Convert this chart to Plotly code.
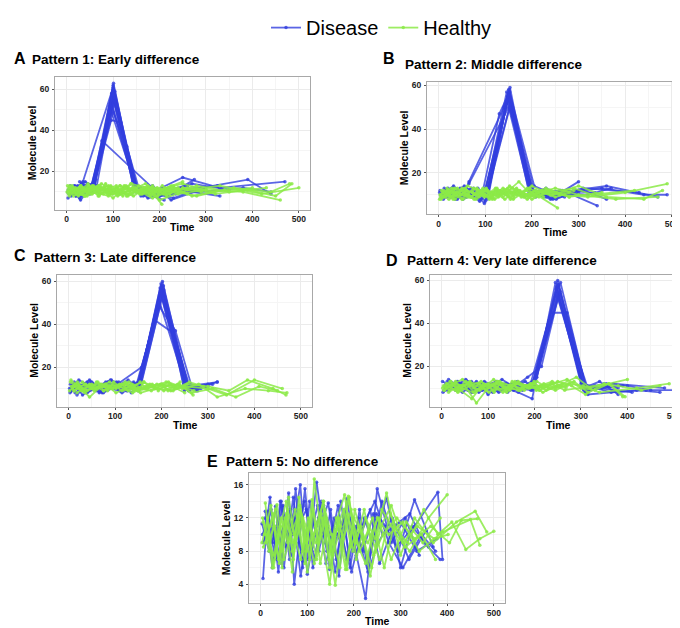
import plotly.graph_objects as go

# ---------------- DATA ----------------
GROUPS = ["Disease", "Healthy"]
PANEL_LETTERS = ["A", "B", "C", "D", "E"]
PANEL_TITLES = ["Pattern 1: Early difference", "Pattern 2: Middle difference",
                "Pattern 3: Late difference", "Pattern 4: Very late difference",
                "Pattern 5: No difference"]
X_TICKS = [0, 100, 200, 300, 400, 500]
Y_TICKS_PEAK = [20, 40, 60]
Y_TICKS_FLAT = [4, 8, 12, 16]

# Panel A: early difference (peak near t=100)
A_DIS_T = [[5,18,35,55,100,150,175,210], [10,28,48,60,97,145,188,240,330],
           [3,25,42,57,102,152,200,260], [15,30,52,95,147,180,230,290,390,440],
           [8,38,58,101,148,195,250,330,470], [20,45,62,96,116,150,170,210],
           [5,33,50,76,185,215,275], [12,30,55,104,150,185,225,300],
           [7,25,45,65,100,155,200,325], [18,40,56,98,143,160,205],
           [2,22,35,100,146,190,270,350], [10,30,53,103,151,175,235,380,440],
           [6,24,44,59,99,149,178,220], [14,32,50,61,101,144,165,215,260],
           [4,20,38,54,97,150,182,240], [9,27,47,58,100,147,170,200,245,310],
           [16,36,53,102,149,192,228], [28,52,100,130,153,190]]
A_DIS_V = [[9,13,11,12,62,13,11,9], [12,7,10,14,58,12,9,11,8],
           [7,11,13,10,55,11,8,12], [10,6,12,50,14,10,7,12,16,9],
           [13,9,13,63,12,11,17,12,15], [8,12,16,45,44,12,9,6],
           [10,14,9,35,12,8,16], [11,8,12,59,10,13,6,12],
           [12,10,14,13,56,12,10,13], [9,15,13,52,15,8,12],
           [10,12,15,61,12,9,14,11], [8,11,10,54,11,7,9,12,10],
           [10,13,9,12,57,13,10,12], [12,9,11,15,60,12,8,10,13],
           [11,8,13,11,53,11,9,10], [9,12,10,13,59,13,11,8,11,10],
           [13,10,12,56,12,10,9], [15,11,49,32,11,9]]
A_HEA_T = [[3,20,45,70,95,120,150,185,230,290], [8,30,55,80,110,140,170,200,260,330,420,500],
           [5,25,50,75,105,135,165,215,280,360,440,480], [12,35,60,90,115,145,180,230],
           [2,18,40,65,88,112,138,162,195,240,300,380,460], [15,42,68,92,125,155,190,205],
           [6,28,52,78,100,128,160,200,250,310,400], [10,32,58,85,108,132,158,186,225,270,340],
           [4,22,48,72,98,122,148,175,210,260,320,390,450,485], [14,38,62,86,114,140,168,196,240],
           [7,26,46,70,96,118,144,172,215,280,350,430], [1,19,44,66,90,116,142,170,205,250],
           [3,15,28,41,55,68,82,96,110,124,138,152,166,180,194,208,225],
           [9,21,34,47,60,73,87,101,115,129,143,157,171,185,199,215,235,260],
           [6,19,31,44,57,71,84,99,113,127,141,155,169,183,197,212,240],
           [12,26,39,52,66,79,93,107,121,135,149,163,177,191,206,222,250,300]]
A_HEA_V = [[11,9,12,8,13,10,11,7,12,10], [10,13,9,12,8,11,14,6,11,13,9,12],
           [12,8,11,14,10,9,12,11,8,12,10,14], [9,12,10,8,13,11,9,13],
           [13,10,8,12,11,9,14,10,12,9,11,10,6], [8,11,13,9,12,10,8,4],
           [10,12,9,11,7,13,9,11,14,10,12], [12,9,13,10,12,8,11,9,13,8,11],
           [9,11,10,13,9,12,10,13,10,12,9,11,8,14], [11,8,12,10,9,14,12,8,12],
           [13,10,14,9,11,10,8,12,9,13,10,12], [10,12,8,11,13,9,12,10,11,15],
           [10,12,9,11,13,8,12,10,9,13,11,10,12,8,11,9,12],
           [12,9,11,13,10,12,9,11,13,8,12,9,11,13,10,8,11,9],
           [8,11,13,9,12,10,14,9,11,12,9,13,10,12,9,12,10],
           [13,10,8,12,11,9,12,13,8,11,12,9,11,10,13,9,12,11]]

# Panel B: middle difference (peak near t=150)
B_DIS_T = [[5,20,45,70,102,150,200,240,300], [10,30,55,85,105,148,198,230,270],
           [3,25,48,75,100,152,205,250,310,360], [15,40,65,150,195,225,265,340],
           [8,35,60,90,108,147,202,280,350,440,490], [12,28,50,80,104,153,196,245,300],
           [6,32,58,95,130,150,200,260,335], [18,42,70,98,106,155,208,255,320,370],
           [2,22,52,78,101,149,194,235,290,360,470], [14,38,62,88,103,151,199,248,310,430],
           [7,26,50,76,100,146,197,230,262], [12,33,58,84,104,151,201,238,285],
           [4,21,46,73,99,149,203,252,300], [16,36,62,92,107,153,195,242],
           [9,29,54,65,140,152,198,260]]
B_DIS_V = [[10,13,9,11,10,58,12,8,16], [8,11,14,9,12,55,10,13,9],
           [12,9,10,13,7,57,14,10,12,8], [11,8,15,50,11,9,12,5],
           [9,12,10,8,11,53,12,11,13,10,10], [13,10,12,11,9,59,13,8,11],
           [10,14,9,12,47,56,10,12,11], [9,11,13,6,12,52,9,11,10,13],
           [11,12,8,10,13,54,11,10,12,14,9], [12,9,11,7,10,56,12,9,13,11],
           [11,9,12,10,11,57,13,9,12], [9,12,10,13,8,58,11,12,10],
           [10,11,13,9,12,55,10,8,12], [12,8,11,10,14,51,12,11],
           [10,13,9,16,50,57,11,10]]
B_HEA_T = [[4,25,50,75,100,125,150,175,200,240,290], [10,35,60,88,112,138,165,190,220,260,320,400,490],
           [2,20,45,70,95,120,145,172,198,230,280,350], [15,40,65,90,115,140,168,195,225],
           [6,30,55,80,105,130,158,185,215,250,300,380,470], [12,38,62,85,110,135,160,188,210,255],
           [8,28,52,78,102,128,152,178,205,240,270], [3,22,48,72,98,122,148,170,200,235,290,330,420],
           [18,42,68,92,118,142,166,192,230,280], [5,32,58,82,108,132,155,182,208,245,300,360,440,480],
           [5,18,31,44,57,70,83,96,109,122,135,148,161,174,187,200,215,235],
           [11,24,37,50,63,76,89,102,115,128,141,154,167,180,193,206,222,250,280],
           [8,21,34,47,60,73,86,99,112,125,138,151,164,177,190,205,230]]
B_HEA_V = [[9,11,8,13,10,12,9,11,14,10,12], [11,8,12,10,9,13,11,8,12,10,9,11,15],
           [8,12,10,9,13,8,11,16,10,12,9,11], [10,13,9,11,8,12,10,13,9],
           [12,9,11,8,12,10,13,9,11,13,10,8,9], [9,10,14,12,9,11,8,12,10,4],
           [11,13,8,10,12,9,14,11,9,12,10], [10,8,12,11,9,13,10,12,8,11,13,10,12],
           [13,10,9,12,11,8,12,10,13,9], [8,11,10,13,9,12,11,9,12,10,14,9,8,12],
           [10,12,8,11,13,9,12,10,8,12,11,13,9,12,10,11,9,12],
           [12,9,11,13,10,8,11,13,9,11,12,8,13,10,9,12,11,9,11],
           [9,11,13,10,12,11,9,12,10,13,9,11,12,9,13,10,12]]

# Panel C: late difference (peak near t=200)
C_DIS_T = [[5,20,40,65,90,120,150,200,255,290], [10,30,55,80,110,148,198,250,275],
           [3,25,45,75,100,130,152,202,258,300], [15,35,60,85,115,145,185,225,262],
           [8,28,50,70,95,125,155,197,252,320], [18,42,68,92,118,150,200,248,280],
           [2,22,48,72,105,157,205,260], [12,38,62,88,112,140,153,196,230,265,310],
           [6,32,58,82,108,135,151,199,253], [20,45,75,100,128,154,203,257,295],
           [9,27,52,77,103,127,150,201,254,285], [14,36,61,86,111,138,156,198,256,300],
           [4,24,47,70,96,122,148,195,251,278], [16,40,66,90,116,144,152,204,249,320]]
C_DIS_V = [[9,13,8,11,14,10,12,58,10,11], [12,7,10,13,9,11,55,12,9],
           [8,11,14,9,12,10,13,60,9,12], [10,12,9,13,8,11,42,36,10],
           [11,9,13,10,12,9,14,57,11,13], [7,12,10,14,11,9,53,12,10],
           [10,14,11,8,12,20,56,9], [13,8,12,10,9,13,10,48,37,11,12],
           [9,11,10,12,13,8,12,59,10], [12,10,8,11,14,10,54,12,11],
           [11,9,12,10,13,9,11,57,11,10], [8,12,10,13,9,12,14,56,10,11],
           [12,10,13,9,11,10,12,51,12,9], [10,13,8,12,10,11,13,58,9,13]]
C_HEA_T = [[5,25,50,75,100,130,160,190,220,250,300,340,400,460],
           [10,35,60,90,120,150,180,210,245,280,320,380,430,470],
           [2,20,45,70,95,125,155,185,215,240,270],
           [15,40,65,88,115,145,175,205,235,265,310,360,410,450],
           [8,30,55,80,108,138,168,198,228,260,290],
           [18,42,68,95,122,150,178,208,238,268],
           [4,28,52,78,102,132,162,192,225,255,300,345,385,440,468],
           [12,35,58,85,110,140,170,200,230],
           [6,19,32,45,58,71,84,97,110,123,136,149,162,175,188,201,214,227,240],
           [11,24,37,50,63,76,89,102,115,128,141,154,167,180,193,206,219,232,250]]
C_HEA_V = [[14,10,12,9,11,13,10,12,9,11,10,7,14,10],
           [11,8,13,10,12,9,11,13,10,12,6,10,9,8],
           [9,12,6,11,10,12,8,10,13,11,9],
           [12,9,11,13,9,10,12,9,12,8,10,6,11,9],
           [10,13,9,12,11,8,11,12,10,13,11],
           [8,11,12,10,13,10,9,11,12,7],
           [13,9,10,12,8,11,13,10,9,12,11,9,14,10,7],
           [9,12,10,11,12,9,10,12,11],
           [11,13,9,12,10,12,9,13,11,10,12,9,13,11,10,12,9,11,13],
           [9,11,12,10,13,9,11,10,12,9,11,13,10,12,9,11,12,10,8]]

# Panel D: very late difference (peak near t=250)
D_DIS_T = [[10,30,55,80,105,130,160,195,250,310,350,400,450,500],
           [15,40,65,90,120,150,180,200,248,305,340,380],
           [5,25,50,75,100,125,155,190,252,315,420,470],
           [20,45,70,95,118,145,175,198,240,270,312,360],
           [8,35,60,85,110,140,170,200,255,308,330,380],
           [12,38,62,88,112,135,165,195,245,300,345],
           [3,28,52,78,102,128,158,185,215,253,302,410],
           [18,42,68,92,115,142,172,198,250,310,370,480],
           [7,33,57,83,108,133,163,192,251,304,355],
           [13,37,64,87,114,137,167,197,247,306,390],
           [2,27,49,74,98,123,153,183,205,249,313,365,440],
           [17,43,67,93,117,144,174,196,256,311,350]]
D_DIS_V = [[12,9,13,8,11,14,10,9,60,8,12,11,9,9],
           [14,10,8,12,9,11,13,10,57,10,13,7],
           [9,12,10,13,7,12,9,11,58,7,9,8],
           [11,8,12,10,13,9,11,12,45,45,9,11],
           [10,13,9,11,8,12,10,14,55,9,11,10],
           [13,10,11,9,12,10,8,5,59,12,10],
           [8,11,14,10,12,9,11,15,20,54,11,8],
           [10,12,9,13,11,8,12,10,52,8,12,10],
           [11,13,9,12,10,11,13,9,58,10,12],
           [9,11,13,10,9,12,10,13,56,9,11],
           [13,10,12,9,11,8,12,10,15,53,11,8,9],
           [10,12,8,11,13,11,9,12,59,10,11]]
D_HEA_T = [[5,25,45,70,95,120,145,170,195,220,250,280,310,340,400],
           [10,35,60,85,110,135,160,185,210,240,270,300,330,360,390],
           [2,20,40,65,90,115,140,165,190,215,245,275,305,340,420,490],
           [15,38,62,88,112,138,162,188,212,238,268],
           [8,30,52,78,102,128,152,178,205,230,260,290,320,350,380,430,470],
           [18,42,68,92,118,142,168,192,218,248],
           [6,28,50,75,100,125,150,175,200,225,255,285,315],
           [12,35,58,82,108,132,158,182,208,235,265,300,360,395],
           [4,17,30,43,56,69,82,95,108,121,134,147,160,173,186,199,212,225,240],
           [9,22,35,48,61,74,87,100,113,126,139,152,165,178,191,204,220,245,270]]
D_HEA_V = [[9,12,14,8,11,13,10,9,12,10,13,11,7,11,14],
           [12,8,11,13,9,10,12,11,9,12,14,10,9,12,6],
           [10,13,9,5,12,11,8,13,10,11,9,12,11,8,10,12],
           [8,11,12,10,14,9,12,10,11,13,10],
           [11,9,13,12,8,12,11,9,13,10,12,15,10,12,11,9,11],
           [13,10,8,11,12,10,9,12,8,11],
           [9,12,11,3,10,13,11,10,12,9,11,13,8],
           [12,10,12,9,11,8,13,11,10,12,9,10,12,6],
           [11,9,13,10,12,10,12,9,11,13,10,9,12,11,10,13,9,11,12],
           [10,12,9,11,13,9,11,12,8,12,10,13,9,11,12,9,12,10,11]]

# Panel E: no difference
E_DIS_T = [[5,15,30,48,62,75,90,105,125,140,160,180,200,225,250,280,310,340],
           [8,20,35,52,68,85,100,118,135,155,172,190,210,230,260,290,330,380,390],
           [3,18,32,45,60,72,88,102,120,138,150,168,185,205,222,240,270,300,325,360],
           [10,25,40,55,70,82,95,112,128,145,162,178,195,215,235,255,285,320,350,385],
           [6,22,38,50,65,80,98,110,130,148,165,182,200,218,245,275,305,345,375],
           [12,28,42,58,72,90,108,122,142,158,175,192,212,228,248,268,295,330,370],
           [4,16,30,44,58,70,86,100,116,132,150,166,184,202,220,242,262,300,335,378],
           [9,24,36,50,64,78,94,110,124,140,156,172,190,208,230,252,282,318,355]]
E_DIS_V = [[4.7,12.8,9,13.5,7,15.5,6,14,8,12,5.5,13,9,2.3,15.5,9,12,7.5],
           [9.2,14.5,7,12,10,16,5.2,11,13.5,8,14,7,12,6,14,8.5,11,15.1,7],
           [11.3,8,13.4,6.5,15,4,12,7,16.3,9,13,5,14.3,7.5,12,9,14.4,6,11,8.5],
           [12.8,6,11,8.5,14.5,9,15.5,6,11,13.8,7,12,5.5,10,13,6.5,11,12.5,9,7],
           [9,13,5.5,12,7.5,11,13,8,14,5.8,10,12.5,8,11,14,9,6,10,8],
           [10.5,7,14,9,12,6.8,10,13.5,8,12,9.5,6,13,6.5,12.5,11,8,14.2,8.5],
           [10,12,7.5,14,9.5,12,5,10.5,7,12,9,13.5,7,11,8,12.5,10,11.5,8,9.5],
           [12,9,11.5,6,13,10,14,8.5,12,6.5,11,9,12,10,5.5,9,12,7,10.5]]
E_HEA_T = [[5,18,32,46,60,75,90,105,115,130,148,165,180,198,215,235,260,290,320,360,400],
           [8,22,38,52,68,82,98,112,128,142,160,175,190,205,225,245,270,300,330,370,420,460,485],
           [3,15,28,42,55,70,85,100,118,135,150,168,185,202,220,240,265,285,315,350,380,410,440,470,500],
           [10,25,40,55,68,85,100,115,132,150,165,182,200,218,238,258,280,310,345,375],
           [6,20,35,50,65,80,95,110,125,140,155,172,188,206,225,250,275,305,340,390,450,470],
           [12,28,44,58,74,90,104,120,138,152,170,186,204,222,242,262,292,330,365,405,430,465],
           [4,18,30,44,58,72,86,102,118,134,148,162,178,194,210,230,252,280,312,348,385],
           [11,26,40,54,70,84,98,114,130,146,162,178,194,212,232,255,278,305,336,372,402]]
E_HEA_V = [[11.5,8,13,6,14.5,9,12,7,16.7,10,4,12,14.8,8,11,5,13,10,8,12,14.8],
           [10,13.5,7,12,5.5,14.5,9,13,6.5,11,3.9,10,14.5,7,12,9.5,15,7.5,12,9,11.5,12.8,10.3],
           [9,12,6,11,14,7,12.5,5.5,11,14,8,12,5.8,13,9,12,6,11,9,13,10,11.5,8.2,9.5,10.4],
           [13.8,6,10,12.5,8,13,10.5,6.5,12,9,11,5.8,12,10,6,11,13.5,8.5,10,7],
           [8.5,11,13.6,7,10,12.3,6.5,14.2,9,12,7.5,11,14.6,9,6.5,12,10,11.5,8,10.3,11.8,8.7],
           [10,7.5,12,9,13,8,11.5,7,13,10,6,12.5,9,13,7.5,10,12,9.5,11,9,11.7,11.9],
           [12,9.5,11,8,13,10,7,12,9,14,6,10.5,13,8.5,11,9,12,7,11.5,9,12],
           [9,12.5,6.5,11.5,9,13.5,8,10,12.5,7,12,9.5,13,8,10.5,7,12.5,9,11,9.5,10]]

PANEL_DATA = [
    (A_DIS_T, A_DIS_V, A_HEA_T, A_HEA_V),
    (B_DIS_T, B_DIS_V, B_HEA_T, B_HEA_V),
    (C_DIS_T, C_DIS_V, C_HEA_T, C_HEA_V),
    (D_DIS_T, D_DIS_V, D_HEA_T, D_HEA_V),
    (E_DIS_T, E_DIS_V, E_HEA_T, E_HEA_V),
]

# ---------------- LAYOUT / STYLE ----------------
W, H = 680, 628
# panel boxes in pixels: (left, right, top, bottom)
BOXES = [(47, 302, 62, 196), (419, 675, 67, 201), (49, 304, 262, 396),
         (422, 677, 262, 396), (241, 497, 463, 595)]
Y_RANGES = [[1.4, 66], [1.0, 61.5], [1.4, 63.2], [1.2, 62.7], [1.7, 17.4]]
X_RANGE = [-25, 524]
LETTER_POS = [(4, 43), (373, 43), (4, 243), (376, 248), (197, 451)]
TITLE_POS = [(22, 44), (395, 49), (24, 245), (397, 248), (216, 451)]

COLORS = {"Disease": "rgba(50,62,222,0.8)", "Healthy": "rgba(140,234,72,0.85)"}
FONT = "Liberation Sans"

fig = go.Figure()
shown = set()
for i, (dt, dv, ht, hv) in enumerate(PANEL_DATA):
    xa = "x" if i == 0 else f"x{i+1}"
    ya = "y" if i == 0 else f"y{i+1}"
    for grp, T, V in (("Disease", dt, dv), ("Healthy", ht, hv)):
        for t, v in zip(T, V):
            fig.add_trace(go.Scatter(
                x=t, y=v, xaxis=xa, yaxis=ya, mode="lines+markers",
                name=grp, legendgroup=grp, showlegend=grp not in shown,
                line=dict(color=COLORS[grp], width=1.8),
                marker=dict(color=COLORS[grp], size=3.5),
                hoverinfo="skip"))
            shown.add(grp)

layout = dict(
    width=W, height=H, margin=dict(l=0, r=0, t=0, b=0),
    paper_bgcolor="white", plot_bgcolor="white",
    font=dict(family=FONT, color="black"),
    legend=dict(orientation="h", x=258 / W, xanchor="left", y=1 + 8 / H, yanchor="top",
                font=dict(size=20, family=FONT), itemwidth=30, tracegroupgap=0,
                bgcolor="rgba(0,0,0,0)"),
    annotations=[],
)
for i, (l, r, t, b) in enumerate(BOXES):
    sx = "" if i == 0 else str(i + 1)
    yt = Y_TICKS_FLAT if i == 4 else Y_TICKS_PEAK
    ydt = 2 if i == 4 else 10
    common = dict(showline=True, mirror=True, linecolor="#a8a8a8", linewidth=1,
                  ticks="outside", ticklen=2, tickcolor="#555555", tickwidth=1,
                  showgrid=True, gridcolor="#ebebeb", gridwidth=1, zeroline=False,
                  tickfont=dict(size=8.5, family=FONT, weight="bold", color="#222222"))
    layout["xaxis" + sx] = dict(
        common, domain=[l / W, r / W], range=X_RANGE, anchor="y" + sx,
        ticklabelstandoff=-1,
        tickmode="array", tickvals=X_TICKS, ticktext=[str(v) for v in X_TICKS],
        minor=dict(tickvals=[50, 150, 250, 350, 450], showgrid=True, gridcolor="#f5f5f5", ticks=""))
    layout["yaxis" + sx] = dict(
        common, domain=[1 - b / H, 1 - t / H], range=Y_RANGES[i], anchor="x" + sx,
        ticklabelstandoff=1,
        tickmode="array", tickvals=yt, ticktext=[str(v) for v in yt],
        minor=dict(dtick=ydt, tick0=0 if i != 4 else 2, showgrid=True, gridcolor="#f5f5f5", ticks=""))
    lx, ly = LETTER_POS[i]
    tx, ty = TITLE_POS[i]
    anns = layout["annotations"]
    anns.append(dict(text=PANEL_LETTERS[i], x=lx / W, y=1 - ly / H, xref="paper", yref="paper",
                     xanchor="left", yanchor="middle", showarrow=False,
                     font=dict(size=16, family=FONT, weight="bold")))
    anns.append(dict(text=PANEL_TITLES[i], x=tx / W, y=1 - ty / H, xref="paper", yref="paper",
                     xanchor="left", yanchor="middle", showarrow=False,
                     font=dict(size=13.5, family=FONT, weight="bold")))
    anns.append(dict(text="Time", x=(l + r) / 2 / W, y=1 - (b + 18) / H, xref="paper", yref="paper",
                     xanchor="center", yanchor="middle", showarrow=False,
                     font=dict(size=10.5, family=FONT, weight="bold")))
    anns.append(dict(text="Molecule Level", x=(l - 23) / W, y=1 - (t + b) / 2 / H,
                     xref="paper", yref="paper", textangle=-90,
                     xanchor="center", yanchor="middle", showarrow=False,
                     font=dict(size=10.5, family=FONT, weight="bold")))

fig.update_layout(**layout)
fig.write_html("out.html")
